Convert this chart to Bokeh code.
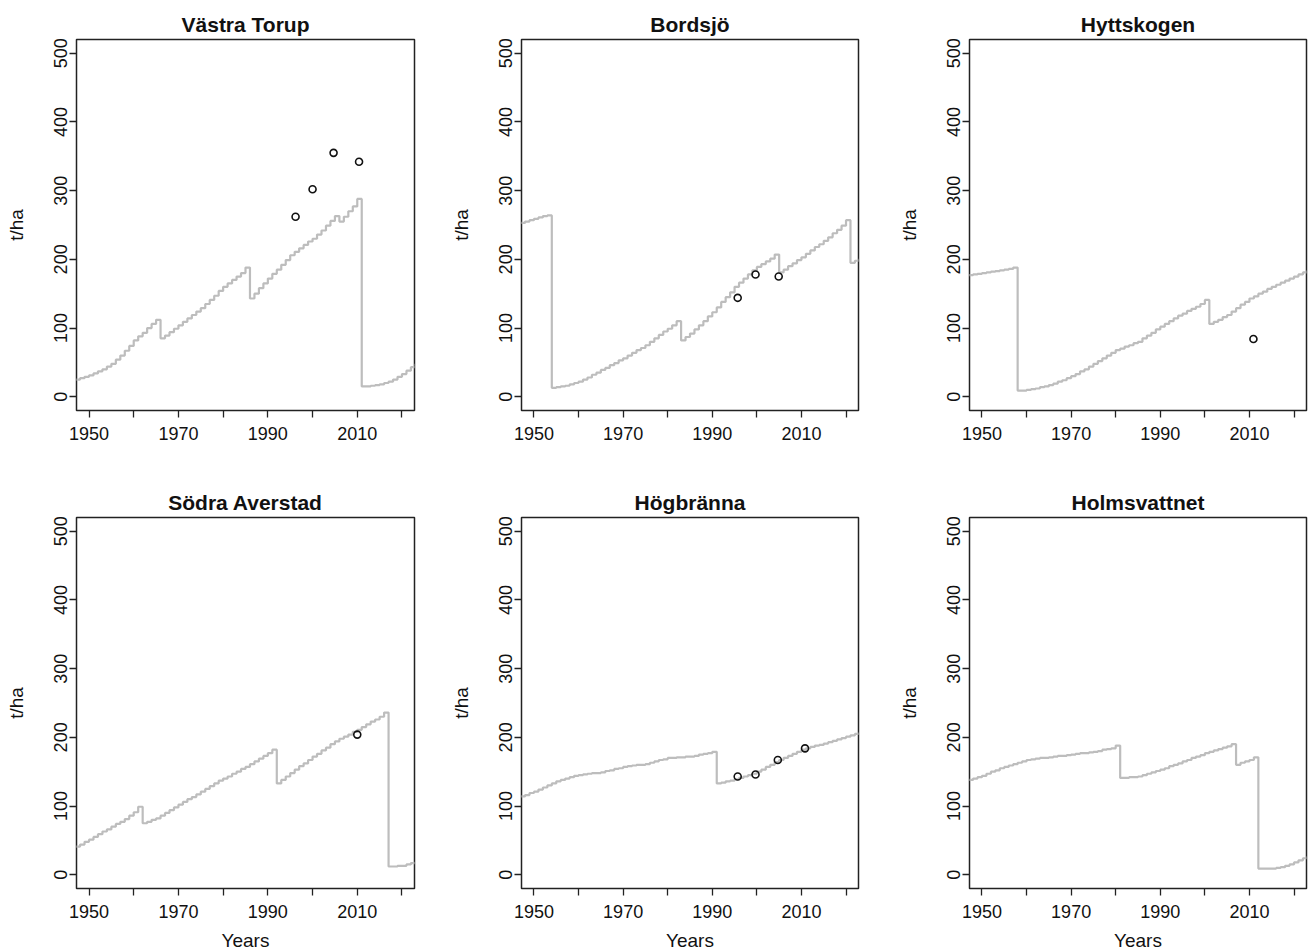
from bokeh.plotting import figure
from bokeh.layouts import column, row
from bokeh.models import FixedTicker, Range1d
from bokeh.embed import file_html
from bokeh.resources import INLINE

years = list(range(1947, 2024))

vastra_torup = [25, 27, 29, 31, 34, 37, 40, 44, 48, 54,
                60, 67, 74, 82, 88, 93, 100, 106, 112, 85,
                89, 94, 99, 104, 109, 114, 119, 124, 129, 135,
                141, 147, 154, 160, 165, 170, 175, 180, 188, 143,
                150, 158, 165, 172, 179, 185, 192, 199, 206, 211,
                216, 221, 226, 230, 236, 242, 249, 256, 263, 255,
                262, 270, 277, 288, 15, 15, 16, 17, 18, 20,
                22, 25, 29, 33, 38, 43, 48]
bordsjo = [253, 255, 257, 259, 261, 263, 264, 13, 14, 15,
           16, 18, 20, 22, 25, 28, 32, 35, 39, 42,
           46, 49, 53, 56, 60, 64, 68, 71, 75, 80,
           85, 90, 95, 99, 104, 110, 82, 87, 92, 98,
           104, 110, 117, 123, 130, 138, 145, 152, 160, 166,
           172, 178, 184, 189, 193, 197, 201, 207, 181, 185,
           190, 194, 199, 203, 208, 213, 218, 222, 227, 232,
           238, 243, 249, 257, 195, 198, 201]
hyttskogen = [177, 178, 179, 180, 181, 182, 183, 184, 185, 186,
              188, 9, 9, 10, 11, 12, 14, 15, 17, 19,
              22, 24, 27, 30, 33, 37, 40, 44, 48, 52,
              56, 60, 64, 68, 70, 73, 75, 78, 80, 85,
              89, 93, 98, 102, 106, 110, 114, 118, 121, 125,
              128, 131, 135, 141, 106, 109, 112, 116, 119, 124,
              129, 134, 138, 143, 146, 150, 153, 157, 160, 163,
              166, 169, 172, 175, 178, 181, 184]
sodra_averstad = [41, 44, 48, 51, 55, 59, 63, 66, 70, 74,
                  77, 81, 86, 91, 99, 75, 77, 80, 82, 86,
                  90, 94, 98, 102, 106, 110, 113, 117, 121, 125,
                  129, 133, 137, 140, 143, 147, 150, 154, 157, 161,
                  165, 169, 173, 177, 182, 133, 138, 143, 148, 153,
                  158, 162, 167, 172, 176, 181, 185, 190, 194, 198,
                  201, 204, 208, 211, 215, 219, 223, 226, 230, 236,
                  12, 12, 13, 13, 15, 17, 19]
hogbranna = [114, 116, 119, 121, 124, 127, 130, 133, 136, 138,
             140, 142, 144, 145, 146, 147, 148, 148, 149, 151,
             152, 154, 155, 157, 158, 159, 160, 160, 161, 163,
             165, 167, 168, 170, 170, 171, 171, 172, 172, 173,
             175, 176, 177, 179, 133, 134, 136, 137, 139, 141,
             143, 145, 147, 150, 153, 157, 160, 164, 167, 170,
             173, 176, 179, 182, 184, 186, 188, 189, 191, 193,
             195, 197, 199, 201, 203, 205, 207]
holmsvattnet = [138, 140, 142, 144, 147, 150, 152, 155, 157, 159,
                161, 163, 165, 167, 168, 169, 170, 170, 171, 172,
                173, 173, 174, 175, 176, 177, 177, 178, 179, 180,
                182, 183, 184, 188, 141, 141, 142, 142, 143, 145,
                147, 149, 151, 153, 155, 158, 160, 162, 165, 167,
                170, 172, 174, 177, 179, 181, 183, 185, 187, 190,
                160, 163, 165, 167, 171, 9, 9, 9, 9, 10,
                11, 13, 15, 18, 21, 24, 27]

obs_vt_x = [1996.2, 2000.0, 2004.7, 2010.4]
obs_vt_y = [262, 302, 355, 342]
obs_bo_x = [1995.7, 1999.7, 2004.9]
obs_bo_y = [144, 178, 175]
obs_hy_x = [2010.9]
obs_hy_y = [84]
obs_sa_x = [2010.0]
obs_sa_y = [204]
obs_ho_x = [1995.7, 1999.7, 2004.7, 2010.8]
obs_ho_y = [143, 146, 167, 184]
obs_hv_x = []
obs_hv_y = []

titles = ["Västra Torup", "Bordsjö", "Hyttskogen",
          "Södra Averstad", "Högbränna", "Holmsvattnet"]
series = [vastra_torup, bordsjo, hyttskogen, sodra_averstad, hogbranna, holmsvattnet]
obs = [(obs_vt_x, obs_vt_y), (obs_bo_x, obs_bo_y), (obs_hy_x, obs_hy_y),
       (obs_sa_x, obs_sa_y), (obs_ho_x, obs_ho_y), (obs_hv_x, obs_hv_y)]

x_ticks = [1950, 1960, 1970, 1980, 1990, 2000, 2010, 2020]
x_labels = {1950: "1950", 1960: "", 1970: "1970", 1980: "", 1990: "1990",
            2000: "", 2010: "2010", 2020: ""}
y_ticks = [0, 100, 200, 300, 400, 500]

FONT = "Liberation Sans"
col_borders = [(76, 338, 10), (97, 337, 10), (101, 337, 4)]
row_borders = [(39, 371, 50), (57, 371, 60)]


def make_panel(i):
    r, c = divmod(i, 3)
    left, fw, right = col_borders[c]
    top, fh, bottom = row_borders[r]
    p = figure(frame_width=fw, frame_height=fh,
               min_border_left=left, min_border_right=right,
               min_border_top=top, min_border_bottom=bottom,
               x_range=Range1d(1947.2, 2022.8), y_range=Range1d(-20, 520),
               output_backend="svg", toolbar_location=None,
               background_fill_color="white", border_fill_color="white")
    p.grid.visible = False
    p.outline_line_color = "#222222"
    p.outline_line_width = 1.5
    p.outline_line_alpha = 1.0

    p.step(years, series[i], mode="after", line_color="#bdbdbd", line_width=2.2)
    ox, oy = obs[i]
    if ox:
        p.scatter(ox, oy, marker="circle", size=7, fill_color=None,
                  line_color="#111111", line_width=1.6)

    p.title.text = titles[i]
    p.title.align = "center"
    p.title.text_font = FONT
    p.title.text_font_size = "21px"
    p.title.text_font_style = "bold"
    p.title.text_color = "#111111"
    p.title.standoff = 8

    for ax in (p.xaxis[0], p.yaxis[0]):
        ax.axis_line_color = None
        ax.major_tick_out = 7
        ax.major_tick_in = 0
        ax.minor_tick_line_color = None
        ax.major_tick_line_color = "#222222"
        ax.major_tick_line_width = 1.3
        ax.major_label_text_font = FONT
        ax.major_label_text_font_size = "18px"
        ax.major_label_text_color = "#111111"
        ax.axis_label_text_font = FONT
        ax.axis_label_text_font_size = "19px"
        ax.axis_label_text_font_style = "normal"
        ax.axis_label_text_color = "#111111"

    p.xaxis.ticker = FixedTicker(ticks=x_ticks)
    p.xaxis.major_label_overrides = x_labels
    p.xaxis.major_label_standoff = 9
    p.yaxis.ticker = FixedTicker(ticks=y_ticks)
    p.yaxis.major_label_orientation = "parallel"
    p.yaxis.major_label_standoff = 2
    p.yaxis.axis_label = "t/ha"
    p.yaxis.axis_label_standoff = 25
    if r == 1:
        p.xaxis.axis_label = "Years"
        p.xaxis.axis_label_standoff = 9
    return p


panels = [make_panel(i) for i in range(6)]
layout = column(row(*panels[:3], spacing=0), row(*panels[3:], spacing=0), spacing=0)

with open("out.html", "w") as f:
    f.write(file_html(layout, INLINE))
